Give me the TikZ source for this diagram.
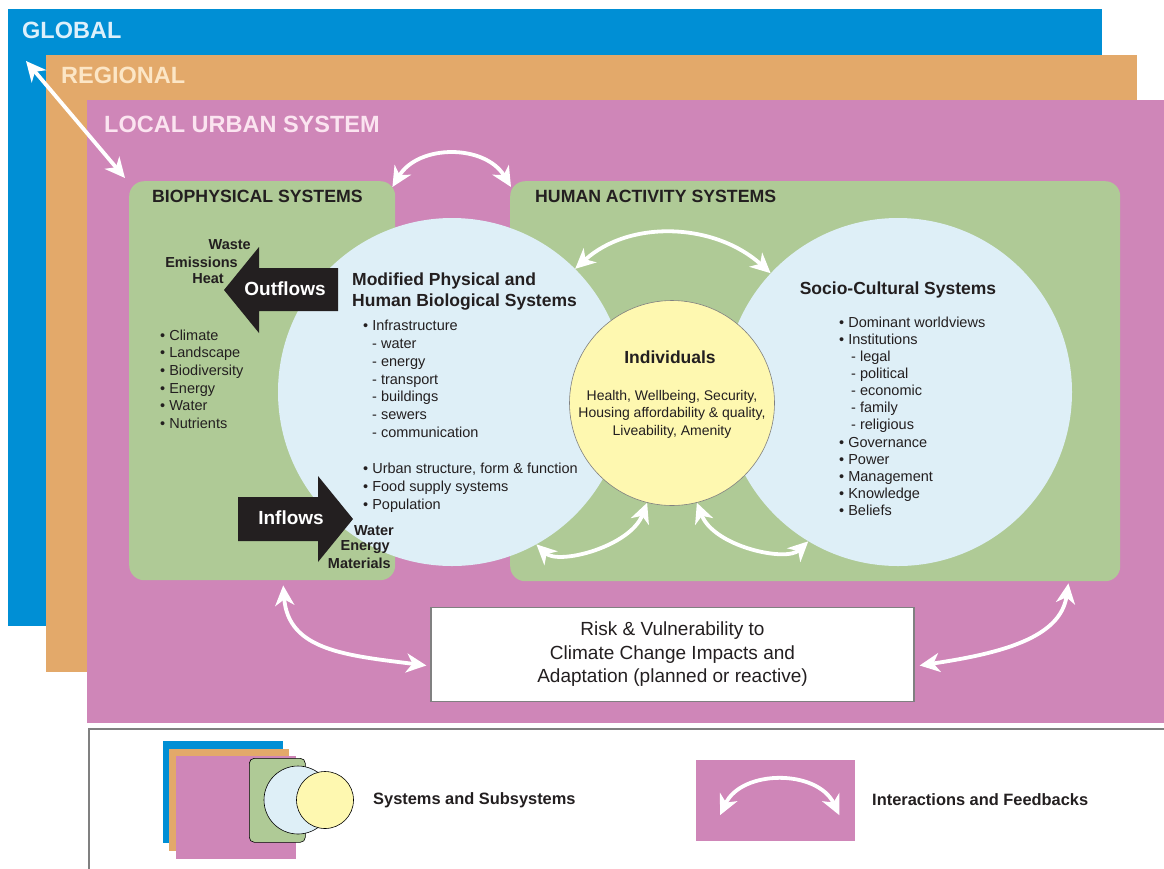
\documentclass[tikz,border=0pt]{standalone}
\usepackage{fontspec}
\setmainfont{Liberation Sans}
\usetikzlibrary{arrows.meta}
\definecolor{globalblue}{HTML}{008FD5}
\definecolor{regionorange}{HTML}{E3A96A}
\definecolor{localpink}{HTML}{CF86B8}
\definecolor{sysgreen}{HTML}{AFCA96}
\definecolor{paleblue}{HTML}{DEEFF7}
\definecolor{paleyellow}{HTML}{FEF8B0}
\definecolor{inkgray}{HTML}{231F20}
\definecolor{globaltext}{HTML}{DDF0FB}
\definecolor{regiontext}{HTML}{FCE6C6}
\definecolor{localtext}{HTML}{FBE4F0}

\begin{document}
\begin{tikzpicture}[x=1pt,y=-1pt,
    feedback/.style={white,line width=3.8pt,{Stealth[length=20pt,width=19pt,inset=6pt]}-{Stealth[length=20pt,width=19pt,inset=6pt]}},
    layer/.style={anchor=north west,inner sep=0pt},
    sysbox/.style={fill=sysgreen,rounded corners=15pt,inner sep=0pt,anchor=north west},
    subsys/.style={circle,fill=paleblue,inner sep=0pt,minimum size=348pt},
    txt/.style={inner sep=0pt,text=inkgray},
    flow/.style={fill=inkgray}]
    \useasboundingbox (0,0) rectangle (1164,868);
    \clip (0,0) rectangle (1164,868);

    \node[layer,fill=globalblue,minimum width=1094pt,minimum height=617pt] (global) at (8,9) {};
    \node[layer,fill=regionorange,minimum width=1091pt,minimum height=617pt] (regional) at (46,55) {};
    \node[layer,fill=localpink,minimum width=1100pt,minimum height=623pt] (local) at (87,100) {};
    \node[inner sep=0pt,anchor=west,text=globaltext,font=\fontsize{23.5}{28}\selectfont\bfseries] (globaltitle) at (22,30) {GLOBAL};
    \node[inner sep=0pt,anchor=west,text=regiontext,font=\fontsize{23.5}{28}\selectfont\bfseries] (regionaltitle) at (61,75) {REGIONAL};
    \node[inner sep=0pt,anchor=west,text=localtext,font=\fontsize{23.5}{28}\selectfont\bfseries] (localtitle) at (104,124) {LOCAL URBAN SYSTEM};

    \node[sysbox,minimum width=266pt,minimum height=399pt] (bio) at (129,181) {};
    \node[sysbox,minimum width=610pt,minimum height=400pt] (human) at (510,181) {};
    \node[txt,anchor=west,font=\fontsize{17.7}{21}\selectfont\bfseries] (biotitle) at (152,196) {BIOPHYSICAL SYSTEMS};
    \node[txt,anchor=west,font=\fontsize{17.7}{21}\selectfont\bfseries] (humantitle) at (535,196) {HUMAN ACTIVITY SYSTEMS};

    \node[subsys] (modc) at (452,392) {};
    \node[subsys] (socc) at (898,392) {};
    \node[circle,fill=paleyellow,draw=gray,line width=0.6pt,inner sep=0pt,minimum size=205pt] (ind) at (672,403) {};

    \fill[flow] (338,268) -- (259,268) -- (259,247) -- (224,290) -- (259,333) -- (259,311) -- (338,311) -- cycle;
    \fill[flow] (238,497) -- (318,497) -- (318,476) -- (353,519) -- (318,562) -- (318,541) -- (238,541) -- cycle;
    \node[inner sep=0pt,text=white,font=\fontsize{19}{22}\selectfont\bfseries] (outflows) at (285,289) {Outflows};
    \node[inner sep=0pt,text=white,font=\fontsize{19}{22}\selectfont\bfseries] (inflows) at (291,518) {Inflows};

    \node[txt,anchor=east,font=\fontsize{14.5}{17}\selectfont\bfseries] (waste) at (251,245) {Waste};
    \node[txt,anchor=east,font=\fontsize{14.5}{17}\selectfont\bfseries] (emissions) at (238,262) {Emissions};
    \node[txt,anchor=east,font=\fontsize{14.5}{17}\selectfont\bfseries] (heat) at (224,279) {Heat};
    \node[txt,anchor=east,font=\fontsize{14.5}{17}\selectfont\bfseries] (water) at (394,531) {Water};
    \node[txt,anchor=east,font=\fontsize{14.5}{17}\selectfont\bfseries] (energy) at (390,547) {Energy};
    \node[txt,anchor=east,font=\fontsize{14.5}{17}\selectfont\bfseries] (materials) at (391,563) {Materials};

    \node[txt,anchor=north west,align=left,font=\fontsize{14.5}{17.6}\selectfont] (biolist) at (160,329.6)
        {• Climate\\• Landscape\\• Biodiversity\\• Energy\\• Water\\• Nutrients};

    \node[txt,anchor=north west,align=left,font=\fontsize{17.5}{21}\selectfont\bfseries] (modtitle) at (352,272.5)
        {Modified Physical and\\Human Biological Systems};
    \node[txt,anchor=north west,align=left,font=\fontsize{14.5}{17.9}\selectfont] (modlist) at (363,319.6)
        {• Infrastructure\\\hspace*{9pt}- water\\\hspace*{9pt}- energy\\\hspace*{9pt}- transport\\\hspace*{9pt}- buildings\\\hspace*{9pt}- sewers\\\hspace*{9pt}- communication\\[17.9pt]• Urban structure, form \& function\\• Food supply systems\\• Population};

    \node[txt,font=\fontsize{17.5}{21}\selectfont\bfseries] (soctitle) at (898,290) {Socio-Cultural Systems};
    \node[txt,anchor=north west,align=left,font=\fontsize{14.5}{17.1}\selectfont] (soclist) at (839,316.6)
        {• Dominant worldviews\\• Institutions\\\hspace*{12pt}- legal\\\hspace*{12pt}- political\\\hspace*{12pt}- economic\\\hspace*{12pt}- family\\\hspace*{12pt}- religious\\• Governance\\• Power\\• Management\\• Knowledge\\• Beliefs};

    \node[txt,font=\fontsize{17.5}{21}\selectfont\bfseries] (indtitle) at (670,357) {Individuals};
    \node[txt,align=center,font=\fontsize{14}{17.5}\selectfont] (indtext) at (672,414)
        {Health, Wellbeing, Security,\\Housing affordability \& quality,\\Liveability, Amenity};

    \node[draw=gray,line width=1.2pt,fill=white,minimum width=483pt,minimum height=94pt,align=center,text=inkgray,font=\fontsize{19}{23.5}\selectfont] (risk) at (672.5,654.5)
        {Risk \& Vulnerability to\\Climate Change Impacts and\\Adaptation (planned or reactive)};

    \draw[feedback] ([xshift=18pt,yshift=-52pt]global.north west) -- ([xshift=-4pt,yshift=3pt]bio.north west);
    \draw[feedback] ([xshift=-3pt,yshift=-6pt]bio.north east) .. controls +(26,-43) and +(-26,-43) .. ([xshift=1pt,yshift=-6pt]human.north west);
    \draw[feedback] (modc.45) .. controls +(55,-50) and +(-55,-50) .. (socc.137);
    \draw[feedback] (modc.-61) .. controls +(22,21) and +(-17,44) .. (ind.-104);
    \draw[feedback] (ind.-76) .. controls +(17,44) and +(-22,21) .. (socc.-121);
    \draw[feedback] ([xshift=21pt,yshift=-5pt]bio.south) .. controls +(5,65) and +(-80,-10) .. ([xshift=-4pt,yshift=-11pt]risk.west);
    \draw[feedback] ([xshift=-52pt,yshift=-2pt]human.south east) .. controls +(-8,55) and +(80,-12) .. ([xshift=5pt,yshift=-11pt]risk.east);

    \node[layer,draw=gray,line width=2pt,fill=white,minimum width=1100pt,minimum height=160pt] (legend) at (88,728) {};
    \node[layer,fill=globalblue,minimum width=120pt,minimum height=102pt] (legglobal) at (163,741) {};
    \node[layer,fill=regionorange,minimum width=120pt,minimum height=102pt] (legregional) at (169,749) {};
    \node[layer,fill=localpink,minimum width=120pt,minimum height=103pt] (leglocal) at (176,756) {};
    \node[sysbox,draw=black,line width=0.6pt,rounded corners=5pt,minimum width=56pt,minimum height=84pt] (legsys) at (249,758) {};
    \node[circle,fill=paleblue,draw=black,line width=0.6pt,inner sep=0pt,minimum size=68pt] (legsub) at (298,800) {};
    \node[circle,fill=paleyellow,draw=black,line width=0.6pt,inner sep=0pt,minimum size=57pt] (legind) at (325,800) {};
    \node[txt,anchor=west,font=\fontsize{16.4}{19}\selectfont\bfseries] (legsystext) at (373,800) {Systems and Subsystems};
    \node[layer,fill=localpink,minimum width=159pt,minimum height=81pt] (legfb) at (696,760) {};
    \draw[feedback] ([xshift=24pt,yshift=-14.5pt]legfb.west) .. controls +(22,-46) and +(-22,-46) .. ([xshift=-16pt,yshift=-14.5pt]legfb.east);
    \node[txt,anchor=west,font=\fontsize{16.4}{19}\selectfont\bfseries] (legfbtext) at (872,800) {Interactions and Feedbacks};
\end{tikzpicture}
\end{document}
